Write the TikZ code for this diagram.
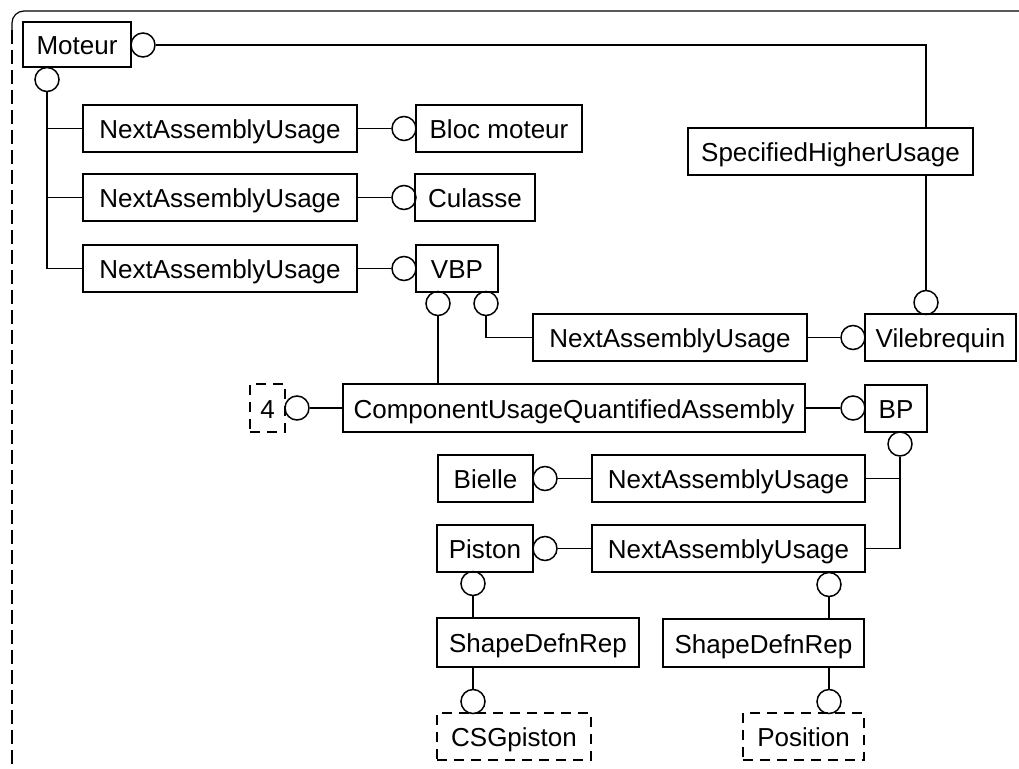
\documentclass[tikz,border=0pt]{standalone}
\usepackage{fontspec}
\setmainfont{Liberation Sans}
\begin{document}
\begin{tikzpicture}[x=1pt,y=-1pt,
  box/.style={draw, line width=1.5pt, inner sep=0pt, minimum height=47pt, text height=21pt, text depth=1pt, font=\fontsize{26}{30}\selectfont},
  dbox/.style={box, dash pattern=on 10pt off 7pt},
  port/.style={draw, circle, line width=1.5pt, minimum size=24pt, inner sep=0pt},
  wire/.style={line width=1.5pt},
  frame/.style={line width=1.2pt}]
\useasboundingbox (0,0) rectangle (1019,768);
% outer frame
\draw[frame] (1019,11) -- (24,11) arc[start angle=270, end angle=180, radius=12] -- (12,30);
\draw[frame, dash pattern=on 14pt off 6pt] (12,30) -- (12,768);

% boxes
\node[box, minimum width=108pt, minimum height=45pt] (moteur) at (77,44.5) {Moteur};
\node[box, minimum width=274pt] (nau1) at (220,128.5) {NextAssemblyUsage};
\node[box, minimum width=166pt] (bloc) at (499,128.5) {Bloc moteur};
\node[box, minimum width=274pt] (nau2) at (220,197.5) {NextAssemblyUsage};
\node[box, minimum width=120pt] (culasse) at (475,197.5) {Culasse};
\node[box, minimum width=274pt] (nau3) at (220,268.5) {NextAssemblyUsage};
\node[box, minimum width=82pt] (vbp) at (457,268.5) {VBP};
\node[box, minimum width=285pt] (shu) at (830.5,151.5) {SpecifiedHigherUsage};
\node[box, minimum width=274pt] (nau4) at (670,337.5) {NextAssemblyUsage};
\node[box, minimum width=151pt] (vile) at (940.5,337.5) {Vilebrequin};
\node[dbox, minimum width=35pt, minimum height=48pt] (four) at (267.5,408) {4};
\node[box, minimum width=462pt, minimum height=48pt] (cuqa) at (574,408) {ComponentUsageQuantifiedAssembly};
\node[box, minimum width=62pt] (bp) at (896,408.5) {BP};
\node[box, minimum width=95pt] (bielle) at (485.5,478.5) {Bielle};
\node[box, minimum width=273pt] (nau5) at (728.5,478.5) {NextAssemblyUsage};
\node[box, minimum width=96pt] (piston) at (485,548.5) {Piston};
\node[box, minimum width=273pt] (nau6) at (728.5,548.5) {NextAssemblyUsage};
\node[box, minimum width=202pt, minimum height=49pt] (sdr1) at (538,642.5) {ShapeDefnRep};
\node[box, minimum width=201pt, minimum height=48pt] (sdr2) at (763.5,643) {ShapeDefnRep};
\node[dbox, minimum width=154pt] (csg) at (514,736.5) {CSGpiston};
\node[dbox, minimum width=121pt] (pos) at (803.5,736.5) {Position};

% ports
\node[port] (pm1) at (143,45) {};
\node[port] (pm2) at (47,79.5) {};
\node[port] (pbloc) at (404,128.5) {};
\node[port] (pcul) at (404,197.5) {};
\node[port] (pvbp) at (404,268.5) {};
\node[port] (pvb1) at (438,303.5) {};
\node[port] (pvb2) at (486,303.5) {};
\node[port] (pvl) at (853,337.5) {};
\node[port] (pvt) at (926,302.5) {};
\node[port] (pfour) at (297,408) {};
\node[port] (pbp) at (853,408) {};
\node[port] (pbpd) at (900,444) {};
\node[port] (pbie) at (545,478.5) {};
\node[port] (ppis) at (545,548.5) {};
\node[port] (ppid) at (473,583.5) {};
\node[port] (pcsg) at (473,701.5) {};
\node[port] (pnd) at (829,584.5) {};
\node[port] (ppos) at (829,701.5) {};

\coordinate (k1) at (926,45);

% connectors
\draw[wire] (pm1.east) -- (k1) -- (k1 |- shu.north);
\draw[wire] (k1 |- shu.south) -- (pvt.north);
\draw[wire] (pm2.south) |- (nau3.west);
\draw[wire] (pm2.south |- nau1.west) -- (nau1.west);
\draw[wire] (pm2.south |- nau2.west) -- (nau2.west);
\draw[wire] (nau1.east) -- (pbloc.west);
\draw[wire] (nau2.east) -- (pcul.west);
\draw[wire] (nau3.east) -- (pvbp.west);
\draw[wire] (pvb1.south) -- (pvb1.south |- cuqa.north);
\draw[wire] (pvb2.south) |- (nau4.west);
\draw[wire] (nau4.east) -- (pvl.west);
\draw[wire] (pfour.east) -- (cuqa.west);
\draw[wire] (cuqa.east) -- (pbp.west);
\draw[wire] (pbpd.south) |- (nau6.east);
\draw[wire] (pbpd.south |- nau5.east) -- (nau5.east);
\draw[wire] (pbie.east) -- (nau5.west);
\draw[wire] (ppis.east) -- (nau6.west);
\draw[wire] (ppid.south) -- (ppid.south |- sdr1.north);
\draw[wire] (pcsg.north |- sdr1.south) -- (pcsg.north);
\draw[wire] (pnd.south) -- (pnd.south |- sdr2.north);
\draw[wire] (ppos.north |- sdr2.south) -- (ppos.north);
\end{tikzpicture}
\end{document}
